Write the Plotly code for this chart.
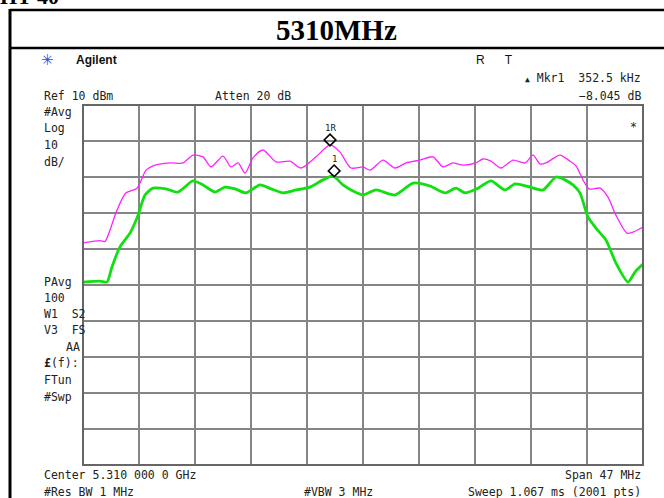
import plotly.graph_objects as go

# ---------------- data ----------------
start_mhz = 5286.5
stop_mhz = 5333.5
ref_level = 10
bottom_level = -90

mag_freq = [5286.50, 5287.93, 5288.35, 5288.77, 5289.35, 5290.11, 5291.03, 5291.79, 5292.38,
            5293.80, 5294.89, 5295.73, 5296.57, 5297.24, 5298.25, 5298.92, 5299.51, 5300.10,
            5300.77, 5301.61, 5302.70, 5303.87, 5304.80, 5306.06, 5307.23, 5308.07, 5308.99,
            5310.00, 5310.59, 5311.68, 5312.69, 5313.61, 5314.78, 5315.88, 5316.71, 5317.55,
            5318.39, 5319.48, 5320.07, 5320.74, 5321.58, 5322.59, 5323.60, 5324.27, 5324.86,
            5325.36, 5326.53, 5327.37, 5327.88, 5328.46, 5328.97, 5329.89, 5330.56, 5331.23,
            5332.16, 5332.66, 5333.50]
mag_level = [-28.3, -27.7, -27.9, -24.7, -19.2, -14.4, -13.1, -8.1, -6.9,
             -6.1, -6.1, -3.9, -4.4, -7.2, -4.2, -7.2, -6.1, -8.9,
             -4.7, -2.5, -5.8, -5.6, -7.5, -4.4, -1.1, -3.1, -7.5,
             -7.2, -8.1, -5.3, -7.5, -6.1, -5.3, -4.4, -7.2, -6.1,
             -6.7, -6.1, -5.0, -5.6, -7.5, -5.3, -6.1, -3.9, -6.4,
             -6.1, -3.9, -5.6, -6.9, -10.8, -13.3, -13.1, -15.6, -20.6,
             -25.6, -25.3, -23.9]

grn_freq = [5286.50, 5287.93, 5288.51, 5288.93, 5289.60, 5290.44, 5291.12, 5291.70, 5292.38,
            5293.47, 5294.47, 5295.73, 5296.57, 5297.58, 5298.42, 5299.26, 5300.18, 5301.36,
            5302.28, 5303.29, 5304.38, 5305.55, 5306.64, 5307.48, 5308.32, 5309.16, 5310.00,
            5311.09, 5312.69, 5314.20, 5315.62, 5316.88, 5317.81, 5318.56, 5319.65, 5320.74,
            5321.92, 5322.76, 5324.02, 5325.11, 5326.20, 5326.95, 5327.62, 5328.21, 5328.88,
            5329.55, 5330.39, 5331.23, 5332.24, 5332.83, 5333.50]
grn_level = [-39.2, -38.9, -39.2, -35.0, -29.4, -25.6, -20.6, -15.0, -13.1,
             -13.3, -14.2, -11.1, -12.2, -14.2, -12.8, -13.3, -14.4, -12.2,
             -13.3, -14.4, -13.6, -12.8, -10.8, -9.7, -12.2, -13.9, -15.0,
             -13.6, -15.0, -11.7, -12.5, -14.4, -13.1, -14.4, -13.1, -11.1,
             -13.6, -11.9, -12.8, -13.6, -10.0, -10.8, -12.2, -14.4, -21.1,
             -24.2, -27.5, -33.9, -39.2, -36.4, -34.2]

mkr_freq = [5307.23, 5307.58]
mkr_level = [0.3, -8.3]
mkr_labels = ["1R", "1"]

# ---------------- layout helpers ----------------
W, H = 664, 498
L, R, T, B = 83, 643, 105, 465


def px(x, y):
    return (x - L) / (R - L), (B - y) / (B - T)


TXT = dict(family="DejaVu Sans Mono", size=11.5, color="#222222")

fig = go.Figure()
fig.add_trace(go.Scatter(x=mag_freq, y=mag_level, mode="lines",
                         line=dict(color="#ff22ff", width=1.3, shape="spline", smoothing=0.7),
                         hoverinfo="skip"))
fig.add_trace(go.Scatter(x=grn_freq, y=grn_level, mode="lines",
                         line=dict(color="#10e010", width=2.8, shape="spline", smoothing=0.6),
                         hoverinfo="skip"))
fig.add_trace(go.Scatter(x=mkr_freq, y=mkr_level, mode="markers",
                         marker=dict(symbol="diamond-open", size=9, color="#000000",
                                     line=dict(width=1.6, color="#000000")),
                         hoverinfo="skip"))

annotations = []
for f, lv, lab in zip(mkr_freq, mkr_level, mkr_labels):
    annotations.append(dict(x=f, y=lv, xref="x", yref="y", text=lab, showarrow=False,
                            yshift=12, font=dict(family="DejaVu Sans Mono", size=9, color="#222")))


def txt(x, y, s, anchor="left", font=None, ya="middle"):
    xp, yp = px(x, y)
    annotations.append(dict(x=xp, y=yp, xref="paper", yref="paper", text=s, showarrow=False,
                            xanchor=anchor, yanchor=ya, font=font or TXT))


NB = "\u00a0"
serif = dict(family="Liberation Serif", size=29, color="#000000")
txt(-2, 11, "<b>HT 40</b>", font=dict(family="Liberation Serif", size=22, color="#000"), ya="bottom")
txt(336, 30, "<b>5310MHz</b>", anchor="center", font=serif)
txt(47, 60, "✳", anchor="center", font=dict(family="DejaVu Sans", size=15, color="#3050e0"))
txt(74, 60, "<b>Agilent</b>", font=dict(family="Liberation Sans", size=12, color="#111"))
txt(474, 60, "R" + NB * 6 + "T", font=dict(family="Liberation Sans", size=12, color="#111"))
txt(643, 78, "<span style='font-size:8px'>▲</span> Mkr1" + NB * 2 + "352.5 kHz", anchor="right")
txt(42, 96, "Ref 10 dBm")
txt(213, 96, "Atten 20 dB")
txt(643, 96, "−8.045 dB", anchor="right")
for yy, s in [(112, "#Avg"), (128, "Log"), (145, "10"), (162, "dB/"),
              (282, "PAvg"), (298, "100"), (314, "W1" + NB * 2 + "S2"), (330, "V3" + NB * 2 + "FS"),
              (363, "<b>£</b>(f):"), (380, "FTun"), (397, "#Swp")]:
    txt(42, yy, s)
txt(82, 347, "AA", anchor="right")
txt(633, 127, "*", anchor="center")
txt(42, 475, "Center 5.310 000 0 GHz")
txt(42, 492, "#Res BW 1 MHz")
txt(302, 492, "#VBW 3 MHz")
txt(643, 475, "Span 47 MHz", anchor="right")
txt(643, 492, "Sweep 1.067 ms (2001 pts)", anchor="right")

shapes = []


def line(x0, y0, x1, y1, color="#000", width=2):
    a, b = px(x0, y0)
    c, d = px(x1, y1)
    shapes.append(dict(type="line", xref="paper", yref="paper", x0=a, y0=b, x1=c, y1=d,
                       line=dict(color=color, width=width)))


line(10, 10, 670, 10, width=2.5)
line(10, 48, 670, 48, width=2.5)
line(10, 9, 10, 505, width=3)
shapes.append(dict(type="rect", xref="paper", yref="paper", x0=0, y0=0, x1=1, y1=1,
                   line=dict(color="#666666", width=2)))

fig.update_layout(
    width=W, height=H, margin=dict(l=L, r=W - R, t=T, b=H - B),
    paper_bgcolor="white", plot_bgcolor="white", showlegend=False,
    xaxis=dict(range=[start_mhz, stop_mhz], tick0=start_mhz, dtick=(stop_mhz - start_mhz) / 10,
               showgrid=True, gridcolor="#858585", gridwidth=1.5, showticklabels=False,
               zeroline=False, showline=False, ticks=""),
    yaxis=dict(range=[bottom_level, ref_level], tick0=bottom_level, dtick=10,
               showgrid=True, gridcolor="#858585", gridwidth=1.5, showticklabels=False,
               zeroline=False, showline=False, ticks=""),
    annotations=annotations, shapes=shapes,
)

fig.write_html("out.html")
